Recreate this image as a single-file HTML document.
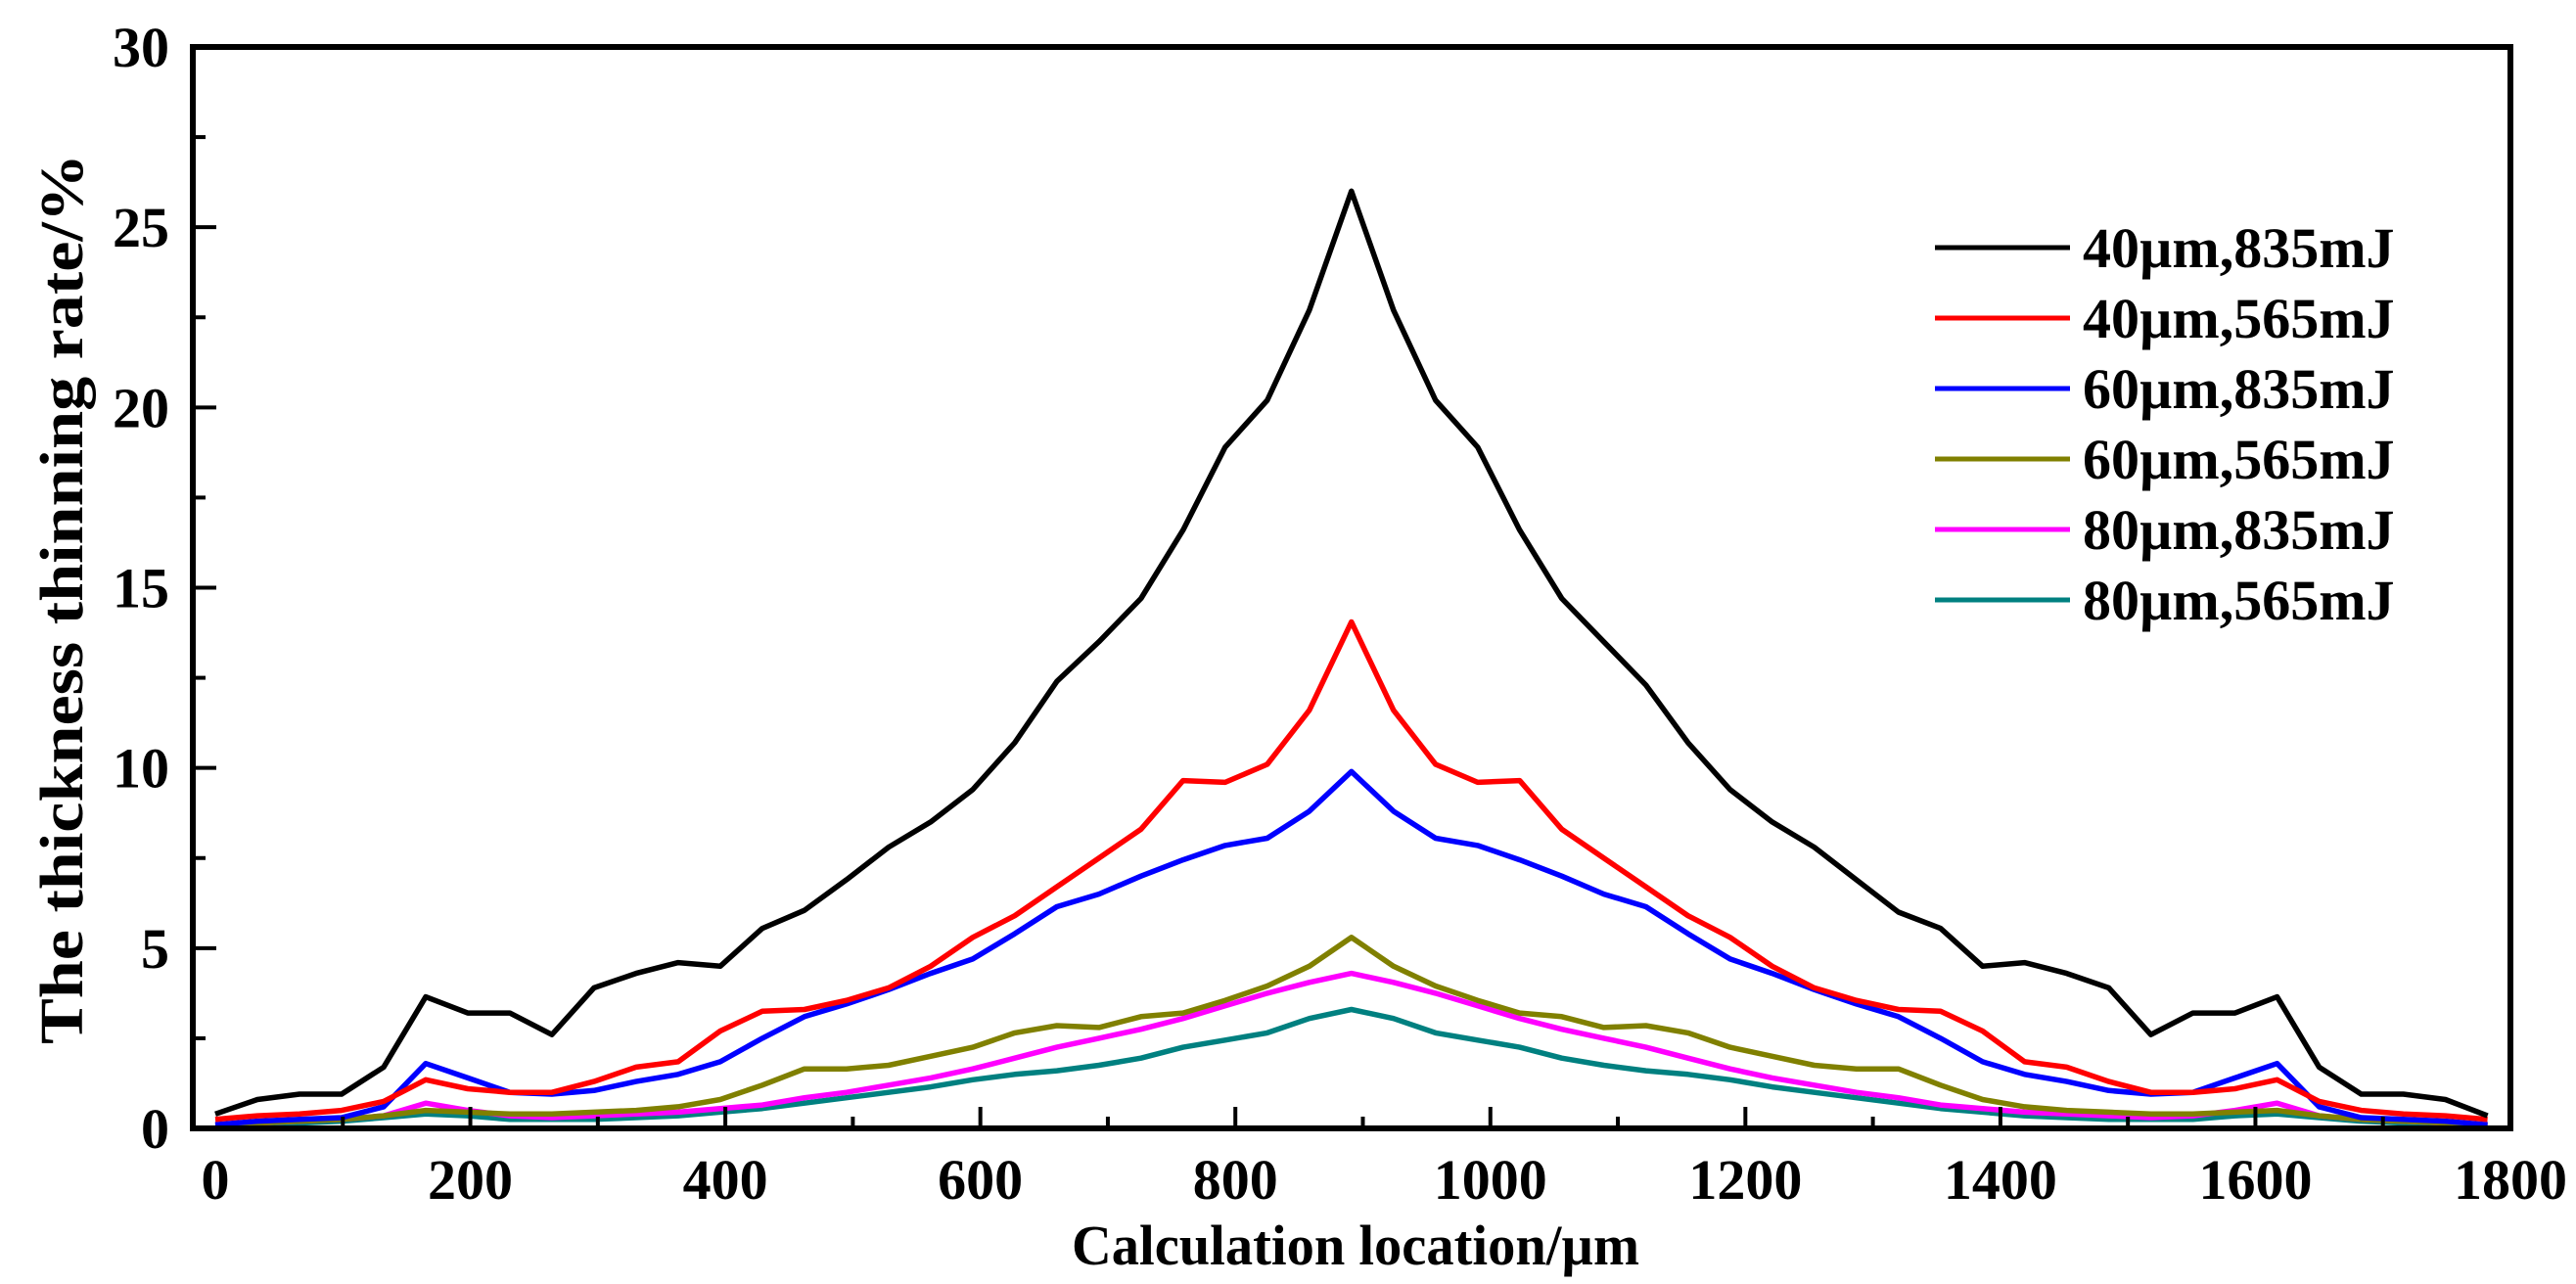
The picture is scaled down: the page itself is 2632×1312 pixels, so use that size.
<!DOCTYPE html>
<html><head><meta charset="utf-8"><style>
html,body{margin:0;padding:0;background:#fff;}
svg{display:block;font-family:"Liberation Serif",serif;font-weight:bold;}
</style></head><body>
<svg id="chart" width="2632" height="1312" viewBox="0 0 2632 1312" xmlns="http://www.w3.org/2000/svg">
<g id="series"></g>
<g id="axes"></g>
<g id="legend"></g>
<text x="1385" y="1292" font-size="58" text-anchor="middle" textLength="580" lengthAdjust="spacingAndGlyphs">Calculation location/µm</text>
<text x="0" y="0" font-size="62" text-anchor="middle" textLength="910" lengthAdjust="spacingAndGlyphs" transform="translate(84,612) rotate(-90)">The thickness thinning rate/%</text>
</svg>
<script>
const xPositions = [0,33,66,99,132,165,198,231,264,297,330,363,396,429,462,495,528,561,594,627,660,693,726,759,792,825,858,891,924,957,990,1023,1056,1089,1122,1155,1188,1221,1254,1287,1320,1353,1386,1419,1452,1485,1518,1551,1584,1617,1650,1683,1716,1749,1782];
const s40_835 = [0.4,0.8,0.95,0.95,1.7,3.65,3.2,3.2,2.6,3.9,4.3,4.6,4.5,5.55,6.05,6.9,7.8,8.5,9.4,10.7,12.4,13.5,14.7,16.6,18.9,20.2,22.7,26.0,22.7,20.2,18.9,16.6,14.7,13.5,12.3,10.7,9.4,8.5,7.8,6.9,6.0,5.55,4.5,4.6,4.3,3.9,2.6,3.2,3.2,3.65,1.7,0.95,0.95,0.8,0.35];
const s40_565 = [0.25,0.35,0.4,0.5,0.75,1.35,1.1,1.0,1.0,1.3,1.7,1.85,2.7,3.25,3.3,3.55,3.9,4.5,5.3,5.9,6.7,7.5,8.3,9.65,9.6,10.1,11.6,14.05,11.6,10.1,9.6,9.65,8.3,7.5,6.7,5.9,5.3,4.5,3.9,3.55,3.3,3.25,2.7,1.85,1.7,1.3,1.0,1.0,1.1,1.35,0.75,0.5,0.4,0.35,0.25];
const s60_835 = [0.1,0.2,0.25,0.3,0.6,1.8,1.4,1.0,0.95,1.05,1.3,1.5,1.85,2.5,3.1,3.45,3.85,4.3,4.7,5.4,6.15,6.5,7.0,7.45,7.85,8.05,8.8,9.9,8.8,8.05,7.85,7.45,7.0,6.5,6.15,5.4,4.7,4.3,3.85,3.45,3.1,2.5,1.85,1.5,1.3,1.05,0.95,1.0,1.4,1.8,0.6,0.3,0.25,0.2,0.1];
const s60_565 = [0.1,0.15,0.2,0.25,0.35,0.5,0.45,0.4,0.4,0.45,0.5,0.6,0.8,1.2,1.65,1.65,1.75,2.0,2.25,2.65,2.85,2.8,3.1,3.2,3.55,3.95,4.5,5.3,4.5,3.95,3.55,3.2,3.1,2.8,2.85,2.65,2.25,2.0,1.75,1.65,1.65,1.2,0.8,0.6,0.5,0.45,0.4,0.4,0.45,0.5,0.35,0.25,0.2,0.15,0.1];
const s80_835 = [0.1,0.15,0.2,0.25,0.35,0.7,0.5,0.35,0.3,0.35,0.4,0.45,0.55,0.65,0.85,1.0,1.2,1.4,1.65,1.95,2.25,2.5,2.75,3.05,3.4,3.75,4.05,4.3,4.05,3.75,3.4,3.05,2.75,2.5,2.25,1.95,1.65,1.4,1.2,1.0,0.85,0.65,0.55,0.45,0.4,0.35,0.3,0.35,0.5,0.7,0.35,0.25,0.2,0.15,0.1];
const s80_565 = [0.05,0.1,0.15,0.2,0.3,0.4,0.35,0.25,0.25,0.25,0.3,0.35,0.45,0.55,0.7,0.85,1.0,1.15,1.35,1.5,1.6,1.75,1.95,2.25,2.45,2.65,3.05,3.3,3.05,2.65,2.45,2.25,1.95,1.75,1.6,1.5,1.35,1.15,1.0,0.85,0.7,0.55,0.45,0.35,0.3,0.25,0.25,0.25,0.35,0.4,0.3,0.2,0.15,0.1,0.05];
const seriesNames = ["40µm,835mJ","40µm,565mJ","60µm,835mJ","60µm,565mJ","80µm,835mJ","80µm,565mJ"];
const seriesColors = ["#000000","#ff0000","#0000ff","#808000","#ff00ff","#008080"];
const xTicks = [0,200,400,600,800,1000,1200,1400,1600,1800];
const yTicks = [0,5,10,15,20,25,30];

const NS = "http://www.w3.org/2000/svg";
const L = 197, R = 2565, T = 48, B = 1153;
const X0 = 220, XS = (2565 - 220) / 1800;
function xs(v){ return X0 + v * XS; }
function ys(v){ return B - v * (B - T) / 30; }
function mk(tag, attrs, parent){
  const e = document.createElementNS(NS, tag);
  for (const k in attrs) e.setAttribute(k, attrs[k]);
  parent.appendChild(e);
  return e;
}
const gS = document.getElementById('series');
const gA = document.getElementById('axes');
const gL = document.getElementById('legend');
const allSeries = [s40_835, s40_565, s60_835, s60_565, s80_835, s80_565];
const keys = ["40-835","40-565","60-835","60-565","80-835","80-565"];
for (let i = allSeries.length - 1; i >= 0; i--) {
  const pts = allSeries[i].map((v, j) => xs(xPositions[j]).toFixed(1) + "," + ys(v).toFixed(1)).join(" ");
  const pl = mk('polyline', {points: pts, fill: 'none', stroke: seriesColors[i], 'stroke-width': 5.5, 'stroke-linejoin': 'round'}, gS);
  
  
}
const fr = mk('rect', {x: L, y: T, width: R - L, height: B - T, fill: 'none', stroke: '#000', 'stroke-width': 6}, gA);


xTicks.forEach(v => {
  const x = xs(v);
  if (v > 0 && v < 1800) {
    const t = mk('line', {x1: x, y1: B, x2: x, y2: B - 22, stroke: '#000', 'stroke-width': 4}, gA);
    
    
  }
  if (v < 1800) {
    const m = mk('line', {x1: xs(v + 100), y1: B, x2: xs(v + 100), y2: B - 12, stroke: '#000', 'stroke-width': 4}, gA);
    
    
  }
  const lb = mk('text', {x: x, y: 1225, 'font-size': 58, 'text-anchor': 'middle'}, gA);
  lb.textContent = v;
  
  
});
yTicks.forEach(v => {
  const y = ys(v);
  if (v > 0 && v < 30) {
    const t = mk('line', {x1: L, y1: y, x2: L + 24, y2: y, stroke: '#000', 'stroke-width': 4}, gA);
    
    
  }
  if (v < 30) {
    const m = mk('line', {x1: L, y1: ys(v + 2.5), x2: L + 13, y2: ys(v + 2.5), stroke: '#000', 'stroke-width': 4}, gA);
    
    
  }
  const lb = mk('text', {x: 173, y: y + 20, 'font-size': 58, 'text-anchor': 'end'}, gA);
  lb.textContent = v;
  
  
});
seriesNames.forEach((n, i) => {
  const y = 253 + i * 72;
  const ln = mk('line', {x1: 1977, y1: y, x2: 2115, y2: y, stroke: seriesColors[i], 'stroke-width': 5}, gL);
  
  
  const tx = mk('text', {x: 2128, y: y + 20, 'font-size': 58}, gL);
  tx.textContent = n;
  
  
});
</script>
</body></html>
